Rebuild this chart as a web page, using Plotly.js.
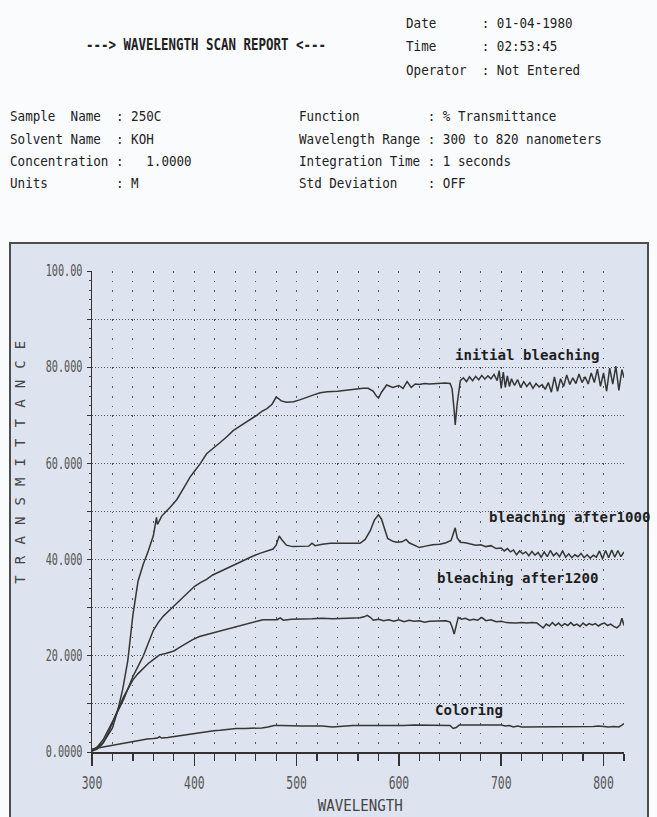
<!DOCTYPE html>
<html><head><meta charset="utf-8">
<script src="https://cdn.plot.ly/plotly-3.0.1.min.js"></script>
<style>html,body{margin:0;padding:0;background:#fafbfd;} #chart{width:657px;height:817px;}</style>
</head><body><div id="chart"></div><script>
// ---- data ----
const wlInitial = [300,305,310,315,320,325,330,335,340,345,350,355,360,362,363,364,368,376,383,390,396,400,406,412,418,425,432,438,445,451,456,461,466,471,476,480,482,485,490,497,503,510,516,523,530,540,550,560,565,570,575,578,580,583,588,594,600,604,608,612,616,620,625,630,635,640,645,650,652,654,655,657,660,663,666,669,672,675,678,681,684,687,690,693,696,698,700,702,704,706,708,710,713,716,719,722,725,728,731,734,737,740,743,746,749,752,755,758,761,764,767,770,773,776,779,782,785,788,791,794,797,800,803,806,809,812,815,818,820];
const tInitial = [0.2,0.6,1.6,3.2,5.0,8.5,13.0,19.0,28.5,35.5,39.0,41.8,45.0,47.5,48.8,47.3,49.0,50.8,52.5,55.0,57.2,58.3,60.0,62.0,63.0,64.3,65.6,66.8,67.8,68.6,69.4,70.0,70.8,71.4,72.3,73.8,73.5,73.0,72.7,72.8,73.2,73.8,74.2,74.7,74.9,75.0,75.3,75.5,75.6,75.6,75.0,74.0,73.6,74.8,76.3,75.8,76.2,75.6,77.0,75.8,76.5,76.4,76.6,76.5,76.6,76.6,76.7,76.6,75.5,71.0,68.0,72.5,77.2,77.8,77.0,78.0,77.2,78.1,77.4,78.3,77.5,78.2,77.6,78.5,77.2,79.3,75.6,79.0,75.8,78.2,76.0,77.6,76.2,77.4,75.8,77.0,76.0,76.8,75.6,76.6,75.9,76.4,75.4,76.8,74.8,78.0,75.0,77.6,76.0,78.4,76.4,77.8,76.6,78.6,76.8,78.0,76.5,78.8,76.8,79.6,76.0,78.8,75.0,79.8,76.5,80.2,75.2,79.5,77.8];

const wlAfter1000 = [300,305,311,316,321,326,331,336,340,345,350,355,360,365,370,375,380,385,390,395,400,406,412,418,425,431,438,444,451,457,464,470,477,480,483,486,490,496,505,512,515,518,525,533,545,555,562,567,572,576,580,583,586,589,594,598,603,607,610,615,620,626,633,640,646,651,653,655,657,660,665,670,675,680,685,690,695,700,703,706,709,712,715,718,721,724,727,730,733,736,739,742,745,748,751,754,757,760,763,766,769,772,775,778,781,784,787,790,793,796,799,802,805,808,811,814,817,820];
const tAfter1000 = [0.3,1.0,2.6,4.5,6.7,8.8,11.0,13.6,15.7,17.8,19.9,22.6,25.3,27.0,28.3,29.3,30.3,31.4,32.4,33.4,34.4,35.2,35.9,36.8,37.5,38.2,38.9,39.5,40.1,40.7,41.3,41.7,42.2,43.0,44.9,44.0,43.0,42.7,42.8,42.8,43.4,42.9,43.2,43.4,43.4,43.4,43.4,44.2,46.0,48.2,49.3,48.4,46.2,44.4,43.8,43.6,43.7,44.2,43.5,43.0,42.5,42.8,43.1,43.2,43.5,44.0,45.5,46.6,44.5,43.6,43.5,43.3,43.0,43.1,42.7,42.9,42.3,42.4,41.8,42.3,41.6,42.0,41.0,41.8,41.2,41.6,40.8,41.7,40.9,41.5,40.5,41.6,40.6,41.9,40.8,41.4,40.6,41.8,40.5,41.2,40.4,41.0,40.6,41.3,40.4,41.0,40.3,40.9,40.5,41.8,40.2,41.9,40.4,42.0,40.5,41.9,40.6,41.6];

const wlAfter1200 = [300,305,311,316,321,326,331,336,340,345,350,355,360,364,366,372,380,386,392,398,405,412,419,427,435,443,451,459,467,475,481,484,487,495,505,515,525,535,550,562,566,569,572,575,580,585,590,595,600,605,610,615,620,625,630,640,646,650,652,654,656,658,661,665,669,673,677,681,685,690,695,700,705,710,715,720,725,730,735,738,741,744,747,750,753,756,759,762,765,768,771,774,777,780,783,786,789,792,795,798,801,804,807,810,813,816,818,820];
const tAfter1200 = [0.2,0.9,1.9,4.0,6.8,9.2,11.5,13.4,15.0,16.3,17.4,18.4,19.2,20.0,20.2,20.5,21.0,21.8,22.6,23.3,24.0,24.4,24.8,25.3,25.7,26.2,26.6,27.1,27.5,27.5,27.5,27.9,27.4,27.6,27.6,27.7,27.8,27.7,27.8,27.9,28.1,28.4,28.0,27.4,27.6,27.3,27.5,27.2,27.5,27.1,27.4,27.2,27.3,27.0,27.2,27.3,27.3,27.0,26.0,24.5,26.0,28.0,27.6,27.8,27.4,27.6,27.4,28.0,27.3,27.5,27.1,27.2,26.9,26.8,26.8,26.9,26.8,26.9,26.8,26.3,25.8,26.6,26.2,26.9,26.3,26.8,26.2,26.7,26.3,26.9,26.3,26.6,26.1,26.8,26.3,26.7,26.4,26.7,26.2,26.6,26.8,26.3,26.6,26.1,25.8,26.4,27.8,26.3];

const wlColoring = [300,305,310,315,320,326,332,337,343,349,354,360,364,366,368,374,380,386,392,399,405,412,419,425,433,441,450,460,466,472,478,485,495,505,515,525,535,545,555,565,575,585,595,605,615,625,635,645,650,653,656,659,670,680,690,700,704,708,712,716,720,730,740,750,760,765,770,780,790,795,800,805,810,815,818,820];
const tColoring = [0.6,0.8,1.0,1.1,1.3,1.6,1.8,2.0,2.3,2.5,2.7,2.8,2.9,3.2,2.9,3.0,3.2,3.4,3.6,3.8,4.0,4.2,4.4,4.5,4.7,4.9,4.9,4.9,5.0,5.2,5.5,5.5,5.4,5.4,5.4,5.4,5.2,5.4,5.5,5.5,5.5,5.5,5.4,5.5,5.6,5.6,5.6,5.6,5.5,4.9,5.1,5.6,5.6,5.6,5.6,5.6,5.4,5.5,5.2,5.4,5.2,5.2,5.2,5.2,5.2,5.3,5.2,5.2,5.3,5.4,5.3,5.2,5.3,5.2,5.6,5.9];

const curveLabels = ['initial bleaching','bleaching after1000','bleaching after1200','Coloring'];
const yTickVals = [0,10,20,30,40,50,60,70,80,90,100];
const yTickText = ['0.0000','','20.000','','40.000','','60.000','','80.000','','100.00'];
const xTickVals = [300,400,500,600,700,800];
const xTickText = ['300','400','500','600','700','800'];
const xTitle = 'WAVELENGTH';
const yTitle = 'TRANSMITTANCE';
const reportTitle = '---> WAVELENGTH SCAN REPORT <---';
const infoTop = ['Date      : 01-04-1980','Time      : 02:53:45','Operator  : Not Entered'];
const infoLeft = ['Sample  Name  : 250C','Solvent Name  : KOH','Concentration :   1.0000','Units         : M'];
const infoRight = ['Function         : % Transmittance','Wavelength Range : 300 to 820 nanometers','Integration Time : 1 seconds','Std Deviation    : OFF'];

// ---- layout helpers (pixel -> paper) ----
const W=657,H=817,M={l:92,r:33,t:271,b:65};
const PW=W-M.l-M.r, PH=H-M.t-M.b;
const px=x=>(x-M.l)/PW, py=y=>(H-M.b-y)/PH;
const nb=s=>s.replace(/ /g,'\u00a0');
const MONO='DejaVu Sans Mono, Liberation Mono, monospace';
const INK='#222222', LINE='#353535';

const annSpecs=[];
function addText(text,x,y,opt){
  annSpecs.push(Object.assign({text:nb(text),x:px(x),y:py(y),xref:'paper',yref:'paper',
    xanchor:'left',yanchor:'middle',align:'left',showarrow:false,
    font:{family:MONO,size:14,color:INK}},opt||{}));
}
addText(reportTitle,84,45,{font:{family:MONO,size:15,color:INK,weight:'bold'},adv:7.5});
infoTop.forEach((s,i)=>addText(s,404,[23,46,70][i],{adv:7.57}));
const rowY=[116.5,138.5,161,183];
infoLeft.forEach((s,i)=>addText(s,8,rowY[i],{adv:7.57}));
infoRight.forEach((s,i)=>addText(s,297,rowY[i],{adv:7.57}));
const labelPos=[[453,354],[487,516],[435,577],[433,709]];
curveLabels.forEach((s,i)=>addText(s,labelPos[i][0],labelPos[i][1],
  {font:{family:MONO,size:14.8,color:'#1e1e1e',weight:'bold'},adv:8.5}));
addText(xTitle,360,806,{xanchor:'center',align:'center',font:{family:MONO,size:15,color:'#444'},adv:8.5});
addText(yTitle,20,462,{xanchor:'center',align:'center',textangle:-90,font:{family:MONO,size:14,color:'#444'},spread:243});

const annotations=annSpecs.map(a=>{const c=Object.assign({},a);delete c.adv;delete c.spread;return c;});

const mk=(x,y)=>({x:x,y:y,type:'scatter',mode:'lines',line:{color:LINE,width:1.5},showlegend:false,hoverinfo:'skip'});
const traces=[mk(wlInitial,tInitial),mk(wlAfter1000,tAfter1000),mk(wlAfter1200,tAfter1200),mk(wlColoring,tColoring)];

const dotsV='1.5px,8.12px';
const layout={
  width:W,height:H,margin:M,
  paper_bgcolor:'#fafbfd',plot_bgcolor:'#dde4ef',
  showlegend:false,
  xaxis:{range:[300,820],fixedrange:true,showline:true,linecolor:'#333',linewidth:1.5,
    tickmode:'array',tickvals:xTickVals,ticktext:xTickText,ticks:'outside',ticklen:12,tickwidth:1.5,tickcolor:'#333',
    tickfont:{family:MONO,size:17,color:'#555'},ticklabelstandoff:3,
    showgrid:true,gridcolor:'#555',gridwidth:1,griddash:dotsV,zeroline:false,
    minor:{tick0:300,dtick:20,ticks:'outside',ticklen:7,tickwidth:1.2,tickcolor:'#333',showgrid:true,gridcolor:'#555',gridwidth:1,griddash:dotsV}},
  xaxis2:{overlaying:'x',anchor:'y',side:'bottom',range:[300,820],fixedrange:true,tickmode:'linear',tick0:300,dtick:5,
    ticks:'inside',ticklen:3,tickcolor:'#444',showticklabels:false,showgrid:false,showline:false,zeroline:false},
  xaxis3:{overlaying:'x',anchor:'y',side:'bottom',range:[300,820],fixedrange:true,tickmode:'linear',tick0:300,dtick:5,
    ticks:'outside',ticklen:2,tickcolor:'#444',showticklabels:false,showgrid:false,showline:false,zeroline:false},
  yaxis:{range:[0,100],fixedrange:true,showline:true,linecolor:'#333',linewidth:1.5,
    tickmode:'array',tickvals:yTickVals,ticktext:yTickText,ticks:'outside',ticklen:4,tickcolor:'#333',
    tickfont:{family:MONO,size:15,color:'#555'},ticklabelstandoff:1,
    showgrid:true,gridcolor:'#555',gridwidth:1,griddash:'1px,2px',zeroline:false,
    minor:{dtick:2,ticks:'outside',ticklen:2,tickcolor:'#444',showgrid:false}},
  shapes:[{type:'rect',xref:'paper',yref:'paper',x0:px(10),x1:px(648),y0:py(243),y1:py(840),
    fillcolor:'#dde4ef',line:{color:'#4d4d4d',width:2},layer:'below'}],
  annotations:annotations
};

Plotly.newPlot('chart',traces,layout,{staticPlot:true}).then(()=>{
  const sq=(el,len,mode)=>{el.setAttribute('textLength',len);el.setAttribute('lengthAdjust',mode||'spacingAndGlyphs');};
  document.querySelectorAll('g.annotation').forEach(g=>{
    const i=+g.getAttribute('data-index');const spec=annSpecs[i];
    const t=g.querySelector('text.annotation-text'); if(!t||!spec) return;
    if(spec.adv) sq(t,t.textContent.length*spec.adv);
    if(spec.spread) sq(t,spec.spread,'spacing');
  });
  document.querySelectorAll('.ytick text').forEach(t=>{if(t.textContent) sq(t,t.getComputedTextLength()*0.68);});
  document.querySelectorAll('.xtick text').forEach(t=>{if(t.textContent) sq(t,t.getComputedTextLength()*0.67);});
});
</script></body></html>
